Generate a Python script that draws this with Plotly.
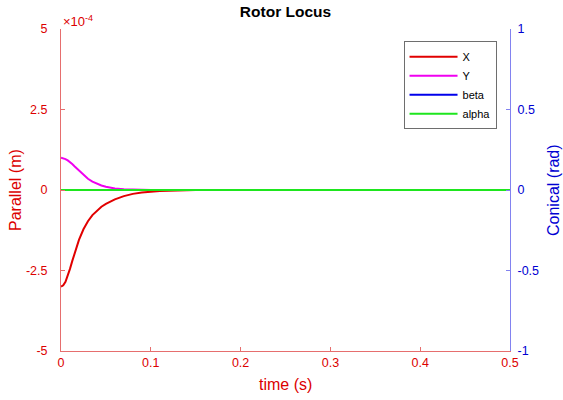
import plotly.graph_objects as go

# time samples (s)
t = [0, 0.0025, 0.005, 0.0075, 0.01, 0.0125, 0.015, 0.0175, 0.02, 0.025, 0.03, 0.035, 0.04, 0.045, 0.05,
     0.06, 0.07, 0.08, 0.09, 0.10, 0.11, 0.12, 0.13, 0.14, 0.15, 0.2, 0.3, 0.4, 0.5]
# Parallel displacement, in units of 1e-4 m
x_par = [-3.0, -2.96, -2.85, -2.67, -2.45, -2.21, -1.97, -1.75, -1.55, -1.22, -0.97, -0.78, -0.64, -0.52, -0.43,
         -0.29, -0.19, -0.12, -0.08, -0.05, -0.03, -0.02, -0.01, -0.005, 0, 0, 0, 0, 0]
y_par = [1.0, 0.99, 0.96, 0.92, 0.87, 0.81, 0.74, 0.67, 0.60, 0.46, 0.35, 0.26, 0.19, 0.14, 0.10,
         0.05, 0.025, 0.01, 0.005, 0, 0, 0, 0, 0, 0, 0, 0, 0, 0]
# Conical (rad)
beta = [0] * len(t)
alpha = [0] * len(t)

left_ticks = [-5, -2.5, 0, 2.5, 5]
left_labels = ["-5", "-2.5", "0", "2.5", "5"]
right_ticks = [-1, -0.5, 0, 0.5, 1]
right_labels = ["-1", "-0.5", "0", "0.5", "1"]
x_ticks = [0, 0.1, 0.2, 0.3, 0.4, 0.5]
x_labels = ["0", "0.1", "0.2", "0.3", "0.4", "0.5"]

RED_TXT = "rgb(220,0,0)"
RED_LINE = "rgb(230,110,110)"
BLUE_TXT = "rgb(0,0,210)"
BLUE_LINE = "rgb(130,130,240)"
FONT = "Liberation Sans, Arial, sans-serif"

fig = go.Figure()
fig.add_trace(go.Scatter(x=t, y=x_par, name="X", mode="lines",
                         line=dict(color="rgb(225,0,0)", width=2)))
fig.add_trace(go.Scatter(x=t, y=y_par, name="Y", mode="lines",
                         line=dict(color="rgb(240,0,240)", width=2)))
fig.add_trace(go.Scatter(x=t, y=beta, name="beta", mode="lines", yaxis="y2",
                         line=dict(color="rgb(0,0,235)", width=2)))
fig.add_trace(go.Scatter(x=t, y=alpha, name="alpha", mode="lines", yaxis="y2",
                         line=dict(color="rgb(30,230,30)", width=2)))

fig.update_layout(
    width=563, height=400,
    margin=dict(l=61, r=53, t=29, b=49, autoexpand=False),
    paper_bgcolor="white", plot_bgcolor="white",
    font=dict(family=FONT, size=12),
    title=dict(text="<b>Rotor Locus</b>", x=0.5, xref="paper", y=1, yref="container",
               yanchor="top", pad=dict(t=6), font=dict(size=15.5, color="black")),
    xaxis=dict(range=[0, 0.5], tickvals=x_ticks, ticktext=x_labels, automargin=False,
               showgrid=False, zeroline=False, showline=True, linecolor=RED_LINE,
               ticks="inside", ticklen=4, tickcolor=RED_LINE,
               tickfont=dict(color=RED_TXT, size=12.5)),
    yaxis=dict(range=[-5, 5], tickvals=left_ticks, ticktext=left_labels, automargin=False,
               showgrid=False, zeroline=False, showline=True, linecolor=RED_LINE,
               ticks="inside", ticklen=4, tickcolor=RED_LINE, ticklabelstandoff=10,
               tickfont=dict(color=RED_TXT, size=12.5)),
    yaxis2=dict(range=[-1, 1], tickvals=right_ticks, ticktext=right_labels, automargin=False,
                overlaying="y", side="right",
                showgrid=False, zeroline=False, showline=True, linecolor=BLUE_LINE,
                ticks="inside", ticklen=4, tickcolor=BLUE_LINE, ticklabelstandoff=4,
                tickfont=dict(color=BLUE_TXT, size=12.5)),
    legend=dict(x=0.97, y=0.962, xanchor="right", yanchor="top",
                bgcolor="white", bordercolor="rgb(110,110,110)", borderwidth=1,
                font=dict(size=11, color="black"), itemwidth=48, tracegroupgap=0),
    showlegend=True,
)
fig.add_annotation(text="\u00d710<sup>-4</sup>", xref="paper", yref="paper",
                   x=0, y=1, xanchor="left", yanchor="bottom", showarrow=False,
                   font=dict(color=RED_TXT, size=13), yshift=-2)
fig.add_annotation(text="time (s)", xref="paper", yref="paper", x=0.5, y=0,
                   xanchor="center", yanchor="top", showarrow=False, yshift=-23,
                   font=dict(color=RED_TXT, size=16))
fig.add_annotation(text="Parallel (m)", xref="paper", yref="paper", x=0, y=0.5,
                   xanchor="center", yanchor="middle", showarrow=False, xshift=-46,
                   textangle=-90, font=dict(color=RED_TXT, size=16))
fig.add_annotation(text="Conical (rad)", xref="paper", yref="paper", x=1, y=0.5,
                   xanchor="center", yanchor="middle", showarrow=False, xshift=43,
                   textangle=-90, font=dict(color=BLUE_TXT, size=16))

fig.write_html("out.html", config={"displayModeBar": False},
               post_script="document.body.style.margin='0';")
